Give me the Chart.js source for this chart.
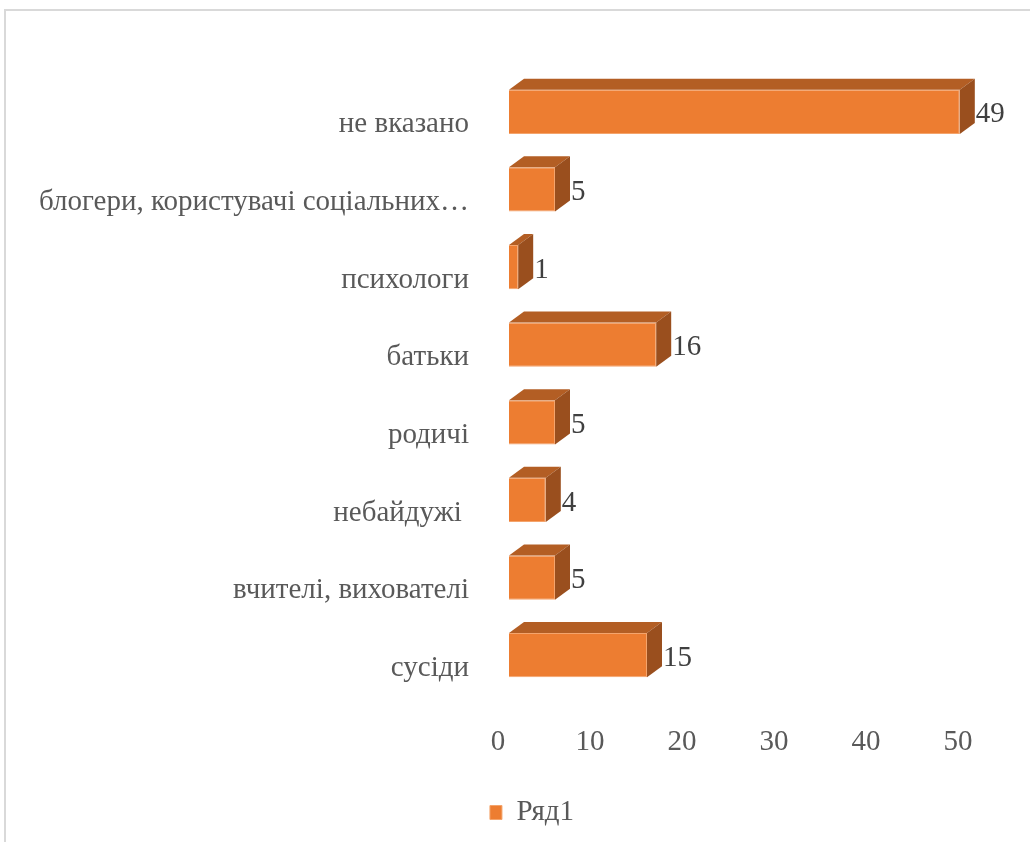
<!DOCTYPE html>
<html>
<head>
<meta charset="utf-8">
<script src="https://cdn.jsdelivr.net/npm/chart.js@4"></script>
<style>
  body { margin: 0; background: #fff; overflow: hidden; }
  .ramka { position: absolute; left: 4px; top: 9px; width: 1200px; height: 1000px; border: 2px solid #d9d9d9; }
  .wrap { position: absolute; left: 0; top: 0; width: 1070px; height: 842px; }
</style>
</head>
<body>
<div class="ramka"></div>
<div class="wrap"><canvas id="grafico"></canvas></div>
<script>
const ctx = document.getElementById('grafico');

let categorias = ['не вказано', 'блогери, користувачі соціальних…', 'психологи', 'батьки', 'родичі', 'небайдужі ', 'вчителі, вихователі', 'сусіди']
let valores = [49, 5, 1, 16, 5, 4, 5, 15]
let ticksX = [0, 10, 20, 30, 40, 50]
let nomeSerie = 'Ряд1'

const fonte = "'Liberation Serif', 'Times New Roman', serif"
const cinza = '#595959'

// faces 3D (topo e lado) + rotulos de valor
const barras3d = {
  id: 'barras3d',
  afterDatasetsDraw(chart) {
    const c = chart.ctx
    const meta = chart.getDatasetMeta(0)
    const dx = 15, dy = 11
    meta.data.forEach((bar, i) => {
      const p = bar.getProps(['x', 'y', 'base', 'height'], true)
      const topo = p.y - p.height / 2
      const baixo = p.y + p.height / 2
      c.save()
      c.fillStyle = '#b35e24'
      c.beginPath()
      c.moveTo(p.base, topo)
      c.lineTo(p.base + dx, topo - dy)
      c.lineTo(p.x + dx, topo - dy)
      c.lineTo(p.x, topo)
      c.closePath()
      c.fill()
      c.fillStyle = '#9a4f1e'
      c.beginPath()
      c.moveTo(p.x, topo)
      c.lineTo(p.x + dx, topo - dy)
      c.lineTo(p.x + dx, baixo - dy)
      c.lineTo(p.x, baixo)
      c.closePath()
      c.fill()
      c.fillStyle = '#404040'
      c.font = '29px ' + fonte
      c.textAlign = 'left'
      c.textBaseline = 'middle'
      c.fillText(String(valores[i]), p.x + dx + 1, p.y + 3)
      c.restore()
    })
  }
}

let grafico = new Chart(ctx, {
  type: 'bar',
  data: {
    labels: categorias,
    datasets: [{
      label: nomeSerie,
      data: valores,
      backgroundColor: '#ed7d31',
      borderColor: '#f4a46c',
      borderWidth: 1,
      barPercentage: 0.57,
      categoryPercentage: 1
    }]
  },
  options: {
    indexAxis: 'y',
    responsive: true,
    maintainAspectRatio: false,
    animation: false,
    layout: { padding: { left: 0, right: 6, top: 73, bottom: 5 } },
    scales: {
      x: {
        min: 0,
        max: 50,
        afterBuildTicks: (s) => { s.ticks = ticksX.map(v => ({ value: v })) },
        afterFit: (s) => { s.height = 94 },
        grid: { display: false, drawTicks: false },
        border: { display: false },
        ticks: { color: cinza, font: { family: fonte, size: 29 }, padding: 31, labelOffset: -11 }
      },
      y: {
        afterFit: (s) => { s.width = 509 },
        grid: { display: false, drawTicks: false },
        border: { display: false },
        ticks: { color: cinza, font: { family: fonte, size: 29 }, padding: 40, labelOffset: 13, autoSkip: false }
      },
      // eixo vazio a direita so para reservar espaco (legenda fica centrada como no original)
      espaco: {
        axis: 'y',
        type: 'linear',
        position: 'right',
        afterFit: (s) => { s.width = 95 },
        grid: { display: false, drawTicks: false },
        border: { display: false },
        ticks: { display: false }
      }
    },
    plugins: {
      legend: {
        position: 'bottom',
        labels: { color: cinza, font: { family: fonte, size: 29 }, boxWidth: 12, boxHeight: 14, padding: 10 }
      },
      tooltip: { enabled: false }
    }
  },
  plugins: [barras3d]
});
</script>
</body>
</html>
